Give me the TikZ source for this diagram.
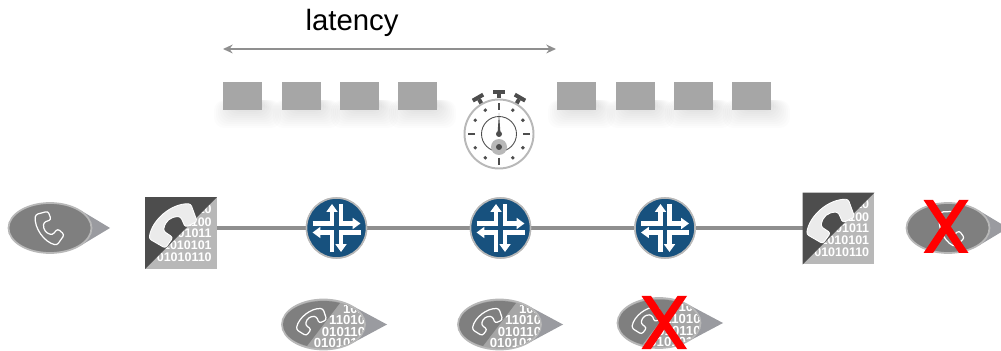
\documentclass[tikz,border=0pt]{standalone}
\usepackage{fontspec}
\setmainfont{Liberation Sans}
\usetikzlibrary{arrows.meta,shapes.geometric}
\definecolor{routerblue}{HTML}{17517E}
\definecolor{ringgrey}{HTML}{B8B8B8}
\definecolor{pktgrey}{HTML}{A6A6A6}
\definecolor{linegrey}{HTML}{8F8F8F}
\definecolor{darkgrey}{HTML}{4D4D4D}
\definecolor{callgrey}{HTML}{7F7F7F}
\definecolor{tipgrey}{HTML}{9A9BA0}
\tikzset{
	pkt/.style={fill=pktgrey, minimum width=0.78cm, minimum height=0.56cm, inner sep=0pt},
	router/.style={circle, fill=routerblue, draw=ringgrey, line width=0.9pt, minimum size=1.2cm, inner sep=0pt},
	gwbox/.style={fill=ringgrey, draw=ringgrey, line width=1pt, minimum size=1.4cm, inner sep=0pt},
	callnode/.style={ellipse, draw=ringgrey, line width=1pt, fill=callgrey, minimum width=1.66cm, minimum height=1cm, inner sep=0pt},
	bits/.style={text=white, inner sep=0pt, anchor=east},
	trunk/.style={linegrey, line width=1.8pt},
	routerarrow/.style={white, line width=2.4pt, -{Triangle[length=4.5pt,width=6.2pt]}},
	watchmark/.style={darkgrey, line width=1.7pt}
}
% handset around (0,0), long axis vertical
\newcommand{\handset}[5]{
	\begin{scope}[shift={(#1,#2)}, rotate=#3, scale=#4]
	\draw [#5, rounded corners=1.4pt] (-3,-17) .. controls (-11,-8) and (-11,8) .. (-3,17) -- (8,13) -- (6,5) -- (-1,7) .. controls (-5,2) and (-5,-2) .. (-1,-7) -- (6,-5) -- (8,-13) -- cycle;
	\end{scope}
}
% tip of a speech bubble
\newcommand{\calltip}[3]{
	\fill [tipgrey] (#1+30,#2-18) -- (#1+#3,#2) -- (#1+30,#2+18) -- cycle;
}
\newcommand{\databubble}[4]{
	\calltip{#1}{#2}{#3}
	\node [callnode, fill=pktgrey] (#4) at (#1,#2) {};
	\begin{scope}
	\clip (#1,#2) ellipse [x radius=0.81cm, y radius=0.47cm];
	\foreach \row/\txt in {-16/101, -4.5/11010, 7.5/010110, 18.5/0101010}
		\node [bits, font=\bfseries\fontsize{7.5pt}{8pt}\selectfont] at (#1+42,#2+\row) {\txt};
	\fill [callgrey] (#1-50,#2-30) -- (#1+23,#2-30) -- (#1-23,#2+30) -- (#1-50,#2+30) -- cycle;
	\end{scope}
	\handset{#1-12}{#2-3}{-52}{1}{white, fill=callgrey, line width=0.7pt}
}
\newcommand{\redcross}[4]{
	\fill [red] (#1,#3) -- ++(9.5,0) -- (#2,#4) -- ++(-9.5,0) -- cycle;
	\fill [red] (#2,#3) -- ++(-9.5,0) -- (#1,#4) -- ++(9.5,0) -- cycle;
}
\begin{document}
\begin{tikzpicture}[x=0.02cm, y=-0.02cm]
	\useasboundingbox (0,0) rectangle (1001,351);
	\node [font=\fontsize{16.7pt}{20pt}\selectfont, inner sep=0pt] (lat) at (352,23) {latency};
	\coordinate (latL) at (223,49);
	\coordinate (latR) at (556,49);
	\draw [{Stealth[length=5.5pt,width=5pt]}-{Stealth[length=5.5pt,width=5pt]}, linegrey, line width=0.9pt] (latL) -- (latR);

	% packets and their soft shadows
	\foreach \px in {223,282,340,398,557,616,674,732} {
		\foreach \r in {-6,-4,...,14}
			\fill [black, opacity=0.013, rounded corners=6pt] (\px+5-\r,100) rectangle (\px+44+\r,114+\r);
	}
	\foreach \px in {223,282,340,398,557,616,674,732}
		\node [pkt] (pkt\px) at (\px+19.5,96) {};

	% stopwatch
	\node [circle, draw=ringgrey, fill=white, line width=1.1pt, minimum size=1.38cm, inner sep=0pt] (watch) at (499,134) {};
	\begin{scope}[shift={(499,134)}]
		\foreach \a in {0,30,-30} {
			\begin{scope}[rotate=\a]
			\fill [darkgrey] (-6,-44) rectangle (6,-40);
			\fill [darkgrey] (-2,-40) rectangle (2,-35.5);
			\end{scope}
		}
		\foreach \a in {0,90,180,270}
			\draw [watchmark] (\a:24) -- (\a:31);
		\foreach \a in {30,60,120,150,210,240,300,330}
			\fill [darkgrey] (\a:27.5) circle (1.1pt);
		\draw [darkgrey, line width=0.5pt] (0,0) circle (0.35cm);
		\fill [ringgrey] (0,13) circle (0.16cm);
		\fill [darkgrey] (0,13) circle (0.06cm);
		\fill [darkgrey] (0,0) circle (0.06cm);
		\fill [darkgrey] (-1.5,0) -- (0,-21) -- (1.5,0) -- cycle;
	\end{scope}

	% network path
	\node [gwbox] (gwL) at (181,233) {};
	\node [gwbox] (gwR) at (838.5,228.5) {};
	\node [router] (rtrA) at (336.5,228) {};
	\node [router] (rtrB) at (500.5,228) {};
	\node [router] (rtrC) at (665,228) {};
	\draw [trunk] (gwL.east |- rtrA) -- (rtrA);
	\draw [trunk] (rtrA) -- (rtrB);
	\draw [trunk] (rtrB) -- (rtrC);
	\draw [trunk] (rtrC) -- (gwR.west |- rtrC);
	\foreach \n in {rtrA,rtrB,rtrC} {
		\node [router] at (\n) {};
		\begin{scope}[shift={(\n)}]
		\draw [routerarrow] (-24,-4.5) -- (-4.5,-4.5) -- (-4.5,-24);
		\draw [routerarrow] (4.5,-24) -- (4.5,-4.5) -- (24,-4.5);
		\draw [routerarrow] (24,4.5) -- (4.5,4.5) -- (4.5,24);
		\draw [routerarrow] (-4.5,24) -- (-4.5,4.5) -- (-24,4.5);
		\end{scope}
	}
	\foreach \n/\cx/\cy in {gwL/181/233,gwR/838.5/228.5} {
		\begin{scope}
		\clip (\n.south west) rectangle (\n.north east);
		\foreach \row/\txt in {-24/110, -11/1100, 0/101011, 12/1010101, 24/01010110}
			\node [bits, font=\bfseries\fontsize{7.1pt}{8pt}\selectfont] at (\cx+31,\cy+\row) {\txt};
		\end{scope}
		\fill [darkgrey] (\n.south west) -- (\n.north west) -- (\n.north east) -- cycle;
		\handset{\cx-8}{\cy-8}{-50}{1.6}{white, fill=white!92!black, line width=0.5pt}
	}

	% calls
	\calltip{50}{228}{60}
	\node [callnode] (callL) at (50,228) {};
	\handset{49}{228}{35}{1.1}{white, fill=callgrey, line width=0.7pt}
	\calltip{948}{228}{60}
	\node [callnode] (callR) at (948,228) {};
	\handset{951}{228}{22}{1.1}{white, fill=callgrey, line width=0.7pt}
	\databubble{323.5}{324.5}{63.5}{dataA}
	\databubble{499.5}{324.5}{63.5}{dataB}
	\databubble{659}{323}{64}{dataC}

	% lost calls
	\redcross{923.5}{968.5}{200}{253}
	\redcross{641.5}{687}{296}{349}
\end{tikzpicture}
\end{document}
